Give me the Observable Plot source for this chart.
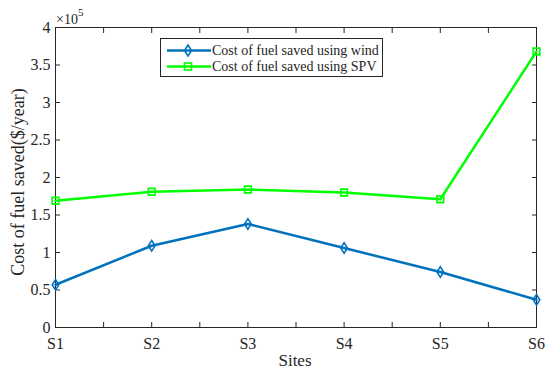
<!DOCTYPE html>
<html>
<head>
<meta charset="utf-8">
<script src="https://cdn.jsdelivr.net/npm/d3@7"></script>
<script src="https://cdn.jsdelivr.net/npm/@observablehq/plot@0.6"></script>
<style>
  body { margin: 0; background: #fff; }
  #chart { width: 545px; height: 371px; }
</style>
</head>
<body>
<div id="chart"></div>
<script>
// Annual cost of fuel saved at each site ($/year)
const sites = ["S1", "S2", "S3", "S4", "S5", "S6"];
const windCost = [57000, 109000, 138000, 106000, 74000, 37000];
const spvCost = [169000, 181000, 184000, 180000, 171000, 368000];
const yTicks = [0, 50000, 100000, 150000, 200000, 250000, 300000, 350000, 400000];
const seriesNames = ["Cost of fuel saved using wind", "Cost of fuel saved using SPV"];
const seriesColors = ["#0072BD", "#00FF00"];

const serif = "'Liberation Serif', 'Times New Roman', serif";
const ink = "#262626";

const rows = sites.map((s, k) => ({ i: k + 1, site: s, wind: windCost[k], spv: spvCost[k] }));
const xMinor = d3.range(1, 6.01, 0.5);
const xMajor = rows.map(d => d.i);

// narrow open diamond marker
const tallDiamond = {
  draw(ctx, size) {
    const h = Math.sqrt(size);
    const w = h * 0.62;
    ctx.moveTo(0, -h); ctx.lineTo(w, 0); ctx.lineTo(0, h); ctx.lineTo(-w, 0); ctx.closePath();
  }
};

const blank = () => "";

const svg = Plot.plot({
  width: 545,
  height: 371,
  marginLeft: 55,
  marginRight: 9,
  marginTop: 27,
  marginBottom: 44,
  style: { fontFamily: serif, fontSize: "16px", color: ink, background: "#fff" },
  x: { domain: [1, 6] },
  y: { domain: [0, 400000] },
  marks: [
    Plot.frame({ stroke: ink, strokeWidth: 1 }),
    // inward tick marks on all four sides
    Plot.axisX(xMinor, { anchor: "bottom", tickSize: -5, tickFormat: blank, label: null, stroke: ink }),
    Plot.axisX(xMinor, { anchor: "top", tickSize: -5, tickFormat: blank, label: null, stroke: ink }),
    Plot.axisY(yTicks, { anchor: "left", tickSize: -5, tickFormat: blank, label: null, stroke: ink }),
    Plot.axisY(yTicks, { anchor: "right", tickSize: -5, tickFormat: blank, label: null, stroke: ink }),
    // tick labels
    Plot.axisX(xMajor, { anchor: "bottom", tickSize: 0, tickPadding: 10, tickFormat: i => sites[i - 1], label: null, fill: ink }),
    Plot.axisY(yTicks, { anchor: "left", tickSize: 0, tickPadding: 5, tickFormat: d => d / 1e5, label: null, fill: ink }),
    // series
    Plot.lineY(rows, { x: "i", y: "wind", stroke: seriesColors[0], strokeWidth: 2.5 }),
    Plot.dot(rows, { x: "i", y: "wind", symbol: tallDiamond, r: 3, stroke: seriesColors[0], strokeWidth: 1.6, fill: "none" }),
    Plot.lineY(rows, { x: "i", y: "spv", stroke: seriesColors[1], strokeWidth: 2.5 }),
    Plot.dot(rows, { x: "i", y: "spv", symbol: "square2", r: 4.3, stroke: seriesColors[1], strokeWidth: 1.6, fill: "none" })
  ]
});

const root = d3.select(svg);

// exponent label above the y axis
const expo = root.append("text")
  .attr("x", 56).attr("y", 24)
  .attr("text-anchor", "start")
  .attr("font-family", serif).attr("font-size", 14).attr("fill", ink);
expo.append("tspan").text("×10");
expo.append("tspan").attr("dy", -8).attr("font-size", 11).text("5");

// axis titles
root.append("text")
  .attr("transform", "translate(24,182) rotate(-90)")
  .attr("text-anchor", "middle")
  .attr("font-family", serif).attr("font-size", 18).attr("fill", ink)
  .text("Cost of fuel saved($/year)");

root.append("text")
  .attr("x", 295).attr("y", 366)
  .attr("text-anchor", "middle")
  .attr("font-family", serif).attr("font-size", 17).attr("fill", ink)
  .text("Sites");

// legend box
const lg = root.append("g").attr("transform", "translate(160,38)");
lg.append("rect").attr("x", 0.5).attr("y", 0.5).attr("width", 222).attr("height", 38)
  .attr("fill", "#fff").attr("stroke", ink).attr("stroke-width", 1);
seriesNames.forEach((name, k) => {
  const cy = 12.5 + k * 16;
  lg.append("line").attr("x1", 7).attr("x2", 51).attr("y1", cy).attr("y2", cy)
    .attr("stroke", seriesColors[k]).attr("stroke-width", 2.5);
  if (k === 0) {
    lg.append("path").attr("d", `M28,${cy - 5.5}L31.5,${cy}L28,${cy + 5.5}L24.5,${cy}Z`)
      .attr("fill", "none").attr("stroke", seriesColors[k]).attr("stroke-width", 1.6);
  } else {
    lg.append("rect").attr("x", 24.5).attr("y", cy - 3.5).attr("width", 7).attr("height", 7)
      .attr("fill", "none").attr("stroke", seriesColors[k]).attr("stroke-width", 1.6);
  }
  lg.append("text").attr("x", 52).attr("y", cy + 4.5)
    .attr("text-anchor", "start")
    .attr("font-family", serif).attr("font-size", 14).attr("fill", ink)
    .text(name);
});

document.getElementById("chart").appendChild(svg);
</script>
</body>
</html>
